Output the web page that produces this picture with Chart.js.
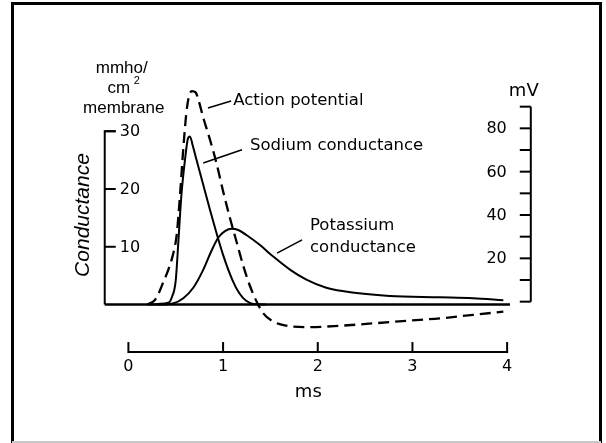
<!DOCTYPE html>
<html>
<head>
<meta charset="utf-8">
<script src="https://cdn.jsdelivr.net/npm/chart.js@4/dist/chart.umd.min.js"></script>
<style>
html,body{margin:0;padding:0;background:#fff;}
#wrap{width:606px;height:443px;}
</style>
</head>
<body>
<div id="wrap"><canvas id="c" width="606" height="443"></canvas></div>
<script>
// ---- data ----
const sodiumT = [0.20, 0.42, 0.46, 0.50, 0.53, 0.56, 0.60, 0.63, 0.65, 0.68, 0.72, 0.86, 1.00, 1.10, 1.17, 1.24, 1.32, 1.45];
const sodiumG = [0, 0.3, 1.3, 4.2, 11.5, 19.0, 25.4, 28.8, 29.1, 27.5, 25.0, 16.5, 8.6, 4.2, 2.0, 0.7, 0.1, 0];

const potassiumT = [0.30, 0.47, 0.58, 0.685, 0.79, 0.88, 0.95, 1.02, 1.09, 1.16, 1.25, 1.39, 1.53, 1.71, 1.88, 2.09, 2.41, 2.76, 3.29, 3.64, 3.96];
const potassiumG = [0, 0.2, 1.1, 2.9, 6.0, 9.4, 11.6, 12.7, 13.1, 12.9, 12.0, 10.3, 8.3, 6.0, 4.3, 2.9, 2.0, 1.5, 1.26, 1.09, 0.75];

const apT  = [0.20, 0.28, 0.32, 0.37, 0.42, 0.47, 0.51, 0.545, 0.58, 0.61, 0.635, 0.67, 0.71, 0.74, 0.79, 0.86, 0.93, 1.00, 1.07, 1.14, 1.21, 1.28, 1.355, 1.425, 1.53, 1.67, 1.88, 2.24, 2.59, 2.94, 3.29, 3.64, 3.96];
const apMV = [-1.3, 0.8, 3.9, 9.2, 14.6, 21.6, 30.8, 49.2, 70.8, 86.2, 93.9, 97.2, 96.6, 93.1, 85, 75, 64, 51, 39, 28, 17, 7.7, 0, -5.4, -9.2, -11.1, -11.8, -11.1, -10.0, -8.8, -7.7, -6.1, -4.6];

const baselineT = [-0.25, 4.03];
const baselineG = [0, 0];

const xTicks = [0, 1, 2, 3, 4];
const condTicks = [10, 20, 30];
const mvTickLabels = [20, 40, 60, 80];
const mvTickMarks = [0, 10, 20, 30, 40, 50, 60, 70, 80, 90];

const xTitle = 'ms';
const condTitle = 'Conductance';
const condUnit = ['mmho/', 'cm', 'membrane'];
const mvTitle = 'mV';
const labelAP = 'Action potential';
const labelNa = 'Sodium conductance';
const labelK = ['Potassium', 'conductance'];

function pts(t, v){ return t.map((x,i)=>({x:x, y:v[i]})); }

const FONT = "'DejaVu Sans', sans-serif";
const UFONT = "'Liberation Sans', Arial, sans-serif";

const decor = {
  id: 'decor',
  afterDraw(chart){
    const ctx = chart.ctx;
    const xs = chart.scales.x, gs = chart.scales.g, ms = chart.scales.mv;
    ctx.save();
    // frame
    ctx.strokeStyle = '#000';
    ctx.lineWidth = 3;
    ctx.beginPath();
    ctx.moveTo(12.5, 443); ctx.lineTo(12.5, 3.5); ctx.lineTo(600.5, 3.5); ctx.lineTo(600.5, 443);
    ctx.stroke();
    ctx.strokeStyle = '#c8c8c8'; ctx.lineWidth = 2;
    ctx.beginPath(); ctx.moveTo(12, 442); ctx.lineTo(601, 442); ctx.stroke();

    ctx.strokeStyle = '#000';
    ctx.fillStyle = '#000';
    ctx.lineWidth = 2;

    // left conductance axis
    const lx = xs.getPixelForValue(-0.25);
    ctx.beginPath();
    ctx.moveTo(lx + 11, gs.getPixelForValue(30));
    ctx.lineTo(lx, gs.getPixelForValue(30));
    ctx.lineTo(lx, gs.getPixelForValue(0));
    ctx.stroke();
    ctx.font = '16px ' + FONT;
    ctx.textAlign = 'left'; ctx.textBaseline = 'middle';
    condTicks.forEach(v => {
      const y = gs.getPixelForValue(v);
      ctx.beginPath(); ctx.moveTo(lx, y); ctx.lineTo(lx + 11, y); ctx.stroke();
      ctx.fillText(String(v), lx + 15, y + 1);
    });
    // units
    const y30 = gs.getPixelForValue(30);
    ctx.font = '17px ' + UFONT;
    ctx.textAlign = 'center'; ctx.textBaseline = 'alphabetic';
    const ux = lx + 17;
    ctx.fillText(condUnit[0], ux, y30 - 58);
    ctx.fillText(condUnit[1], ux - 3, y30 - 38);
    ctx.font = '11px ' + UFONT;
    ctx.textAlign = 'left';
    ctx.fillText('2', ux + 12, y30 - 47);
    ctx.font = '17px ' + UFONT;
    ctx.textAlign = 'center';
    ctx.fillText(condUnit[2], ux + 2, y30 - 18);
    // rotated title
    ctx.save();
    ctx.translate(lx - 22, gs.getPixelForValue(15.5));
    ctx.rotate(-Math.PI/2);
    ctx.font = 'italic 21px ' + UFONT;
    ctx.textAlign = 'center'; ctx.textBaseline = 'middle';
    ctx.fillText(condTitle, 0, 0);
    ctx.restore();

    // right mV axis
    const rx = xs.getPixelForValue(4.25);
    ctx.beginPath();
    ctx.moveTo(rx, ms.getPixelForValue(0));
    ctx.lineTo(rx, ms.getPixelForValue(90));
    ctx.stroke();
    mvTickMarks.forEach(v => {
      const y = ms.getPixelForValue(v);
      ctx.beginPath(); ctx.moveTo(rx - 11, y); ctx.lineTo(rx, y); ctx.stroke();
    });
    ctx.font = '16px ' + FONT;
    ctx.textAlign = 'right'; ctx.textBaseline = 'middle';
    mvTickLabels.forEach(v => {
      ctx.fillText(String(v), rx - 24, ms.getPixelForValue(v) + 1);
    });
    ctx.font = '18px ' + FONT;
    ctx.textAlign = 'center'; ctx.textBaseline = 'alphabetic';
    ctx.fillText(mvTitle, rx - 7, ms.getPixelForValue(90) - 11);

    // x axis (ms)
    const axY = gs.getPixelForValue(0) + 47.5;
    ctx.beginPath();
    ctx.moveTo(xs.getPixelForValue(0), axY);
    ctx.lineTo(xs.getPixelForValue(4), axY);
    ctx.stroke();
    ctx.font = '16px ' + FONT;
    ctx.textAlign = 'center'; ctx.textBaseline = 'middle';
    xTicks.forEach(v => {
      const x = xs.getPixelForValue(v);
      ctx.beginPath(); ctx.moveTo(x, axY + 1); ctx.lineTo(x, axY - 10); ctx.stroke();
      ctx.fillText(String(v), x, axY + 15);
    });
    ctx.font = '18px ' + FONT;
    ctx.fillText(xTitle, xs.getPixelForValue(1.9), axY + 40);

    // annotations with leader lines
    ctx.lineWidth = 1.6;
    ctx.font = '16.5px ' + FONT;
    ctx.textAlign = 'left'; ctx.textBaseline = 'alphabetic';
    // action potential
    ctx.beginPath();
    ctx.moveTo(xs.getPixelForValue(0.84), ms.getPixelForValue(89.4));
    ctx.lineTo(xs.getPixelForValue(1.085), ms.getPixelForValue(92.6));
    ctx.stroke();
    ctx.fillText(labelAP, xs.getPixelForValue(1.107), ms.getPixelForValue(91.0));
    // sodium
    ctx.beginPath();
    ctx.moveTo(xs.getPixelForValue(0.79), gs.getPixelForValue(24.5));
    ctx.lineTo(xs.getPixelForValue(1.2), gs.getPixelForValue(26.8));
    ctx.stroke();
    ctx.fillText(labelNa, xs.getPixelForValue(1.284), gs.getPixelForValue(26.7));
    // potassium
    ctx.beginPath();
    ctx.moveTo(xs.getPixelForValue(1.57), gs.getPixelForValue(8.9));
    ctx.lineTo(xs.getPixelForValue(1.834), gs.getPixelForValue(11.2));
    ctx.stroke();
    ctx.fillText(labelK[0], xs.getPixelForValue(1.918), gs.getPixelForValue(12.9));
    ctx.fillText(labelK[1], xs.getPixelForValue(1.918), gs.getPixelForValue(9.1));
    ctx.restore();
  }
};

new Chart(document.getElementById('c'), {
  type: 'line',
  data: {
    datasets: [
      { label: 'baseline', data: pts(baselineT, baselineG), yAxisID: 'g', borderColor: '#000', borderWidth: 2.5, pointRadius: 0 },
      { label: labelNa, data: pts(sodiumT, sodiumG), yAxisID: 'g', borderColor: '#000', borderWidth: 2, pointRadius: 0, cubicInterpolationMode: 'monotone' },
      { label: labelK.join(' '), data: pts(potassiumT, potassiumG), yAxisID: 'g', borderColor: '#000', borderWidth: 2, pointRadius: 0, cubicInterpolationMode: 'monotone' },
      { label: labelAP, data: pts(apT, apMV), yAxisID: 'mv', borderColor: '#000', borderWidth: 2.3, borderDash: [11, 6], pointRadius: 0, cubicInterpolationMode: 'monotone' }
    ]
  },
  options: {
    responsive: false,
    animation: false,
    devicePixelRatio: 1,
    layout: { padding: { left: 100, right: 61, top: 85, bottom: 98 } },
    plugins: { legend: { display: false }, tooltip: { enabled: false }, title: { display: false } },
    scales: {
      x: { type: 'linear', min: -0.3, max: 4.4, display: false },
      g: { type: 'linear', position: 'left', min: -7, max: 38, display: false },
      mv: { type: 'linear', position: 'right', min: -20, max: 100, display: false }
    }
  },
  plugins: [decor]
});
</script>
</body>
</html>
